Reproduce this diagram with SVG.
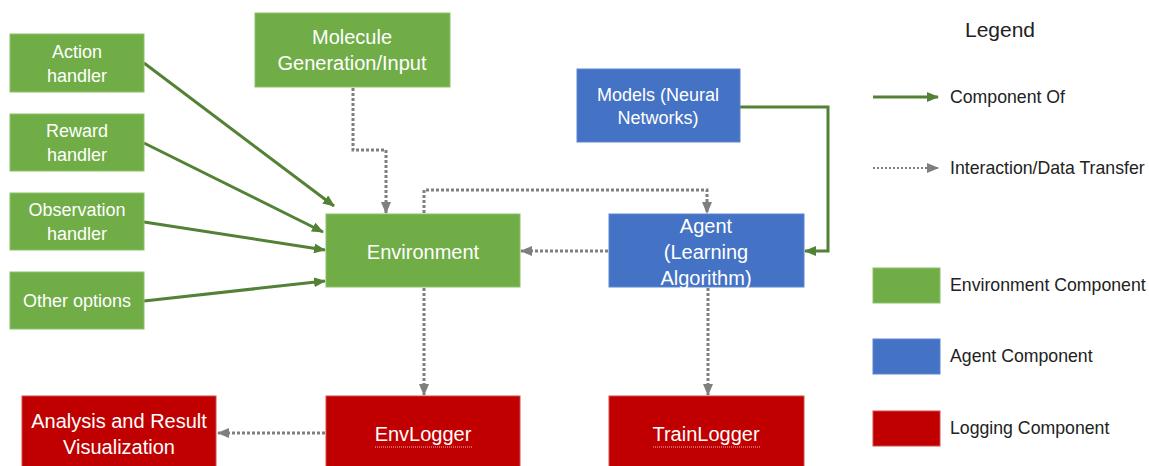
<svg xmlns="http://www.w3.org/2000/svg" width="1149" height="466" viewBox="0 0 1149 466">
<defs>
<style>
.env{fill:#70AD47;stroke:#8CC168;stroke-width:1}
.agt{fill:#4472C4;stroke:#5B86D0;stroke-width:1}
.log{fill:#C00000;stroke:#D44A4A;stroke-width:1}
.t{font-family:"Liberation Sans",Arial,sans-serif;fill:#FFFFFF;text-anchor:middle}
.s{font-size:18px}
.m{font-size:20px}
.lg{font-family:"Liberation Sans",Arial,sans-serif;fill:#222222;font-size:17.7px}
.title{font-size:21px}
.comp{fill:none;stroke:#538135;stroke-width:3;marker-end:url(#ga)}
.data{fill:none;stroke:#7F7F7F;stroke-width:3;stroke-dasharray:3 2;marker-end:url(#da)}
.ul{stroke:#F2B8B8;stroke-width:1;stroke-dasharray:1 1;fill:none}
</style>
<marker id="ga" markerUnits="userSpaceOnUse" markerWidth="12" markerHeight="10" refX="11" refY="5" orient="auto"><path d="M0,0 L12,5 L0,10 Z" fill="#538135"/></marker>
<marker id="da" markerUnits="userSpaceOnUse" markerWidth="12" markerHeight="10" refX="11" refY="5" orient="auto"><path d="M0,0 L12,5 L0,10 Z" fill="#7F7F7F"/></marker>
</defs>
<rect width="1149" height="466" fill="#FFFFFF"/>

<g id="connectors">
<path class="comp" d="M144,63 L334,206"/>
<path class="comp" d="M144,143 L323,232"/>
<path class="comp" d="M144,222 L325,250"/>
<path class="comp" d="M144,301 L325,281"/>
<path class="comp" d="M740,107 L828,107 L828,251 L805,251"/>
<path class="data" d="M353,88 L353,150 L386,150 L386,213"/>
<path class="data" d="M424,213 L424,190 L707,190 L707,213"/>
<path class="data" d="M608,251 L521,251"/>
<path class="data" d="M424,288 L424,395"/>
<path class="data" d="M708,288 L708,395"/>
<path class="data" d="M325,433 L218,433"/>
</g>

<g id="action-handler"><rect class="env" x="10" y="34" width="134" height="58"/><text class="t s" x="77" y="58">Action</text><text class="t s" x="77" y="82">handler</text></g>
<g id="reward-handler"><rect class="env" x="10" y="114" width="134" height="57"/><text class="t s" x="77" y="137">Reward</text><text class="t s" x="77" y="161">handler</text></g>
<g id="observation-handler"><rect class="env" x="10" y="193" width="134" height="57"/><text class="t s" x="77" y="216">Observation</text><text class="t s" x="77" y="240">handler</text></g>
<g id="other-options"><rect class="env" x="10" y="272" width="134" height="57"/><text class="t s" x="77" y="307">Other options</text></g>
<g id="molecule"><rect class="env" x="255" y="13" width="195" height="74"/><text class="t m" x="352" y="44">Molecule</text><text class="t m" x="352" y="70">Generation/Input</text></g>
<g id="environment"><rect class="env" x="326" y="214" width="194" height="73"/><text class="t m" x="423" y="259">Environment</text></g>
<g id="models"><rect class="agt" x="577" y="69" width="163" height="73"/><text class="t s" x="658" y="101">Models (Neural</text><text class="t s" x="658" y="124">Networks)</text></g>
<g id="agent"><rect class="agt" x="609" y="214" width="195" height="73"/><text class="t m" x="706" y="233">Agent</text><text class="t m" x="706" y="259">(Learning</text><text class="t m" x="706" y="285">Algorithm)</text></g>
<g id="analysis"><rect class="log" x="22" y="396" width="194" height="75"/><text class="t m" x="119" y="428">Analysis and Result</text><text class="t m" x="119" y="454">Visualization</text></g>
<g id="envlogger"><rect class="log" x="326" y="396" width="194" height="75"/><text class="t m" x="423" y="441">EnvLogger</text><path class="ul" d="M375,447 L472,447"/></g>
<g id="trainlogger"><rect class="log" x="609" y="396" width="195" height="75"/><text class="t m" x="706" y="441">TrainLogger</text><path class="ul" d="M653,447 L760,447"/></g>

<g id="legend">
<text class="lg title" x="1000" y="37" text-anchor="middle">Legend</text>
<path d="M873,97 L938,97" stroke="#538135" stroke-width="3" fill="none" marker-end="url(#ga)"/>
<text class="lg" x="950" y="103">Component Of</text>
<path d="M873,168 L938,168" stroke="#7F7F7F" stroke-width="2" stroke-dasharray="2 2" fill="none" marker-end="url(#da)"/>
<text class="lg" x="950" y="174">Interaction/Data Transfer</text>
<rect class="env" x="873" y="268" width="67" height="35"/>
<text class="lg" x="950" y="291">Environment Component</text>
<rect class="agt" x="873" y="339" width="67" height="35"/>
<text class="lg" x="950" y="362">Agent Component</text>
<rect class="log" x="873" y="411" width="67" height="35"/>
<text class="lg" x="950" y="434">Logging Component</text>
</g>
</svg>
